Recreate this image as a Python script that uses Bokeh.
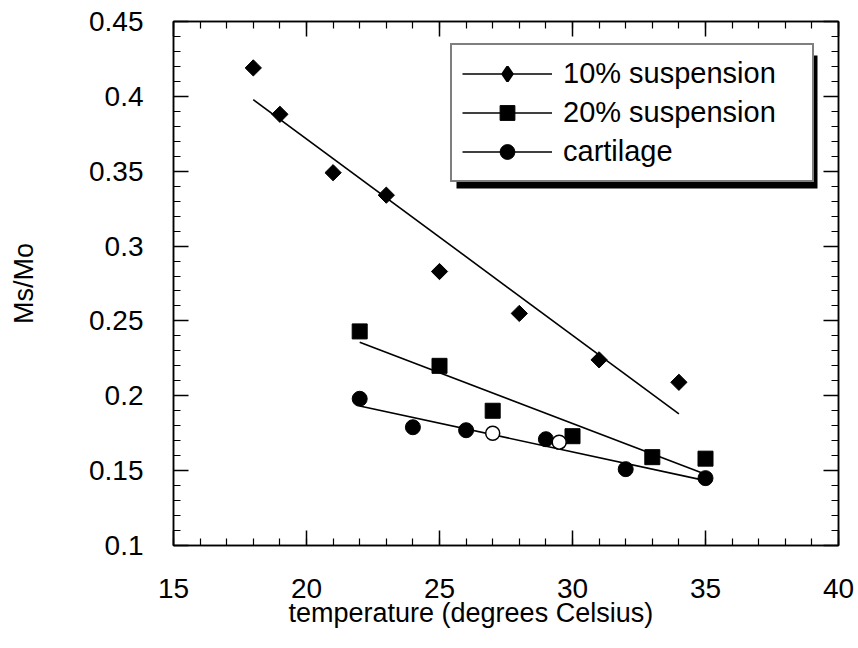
import numpy as np
from bokeh.plotting import figure
from bokeh.models import (Range1d, LinearAxis, FixedTicker, Legend, LegendItem,
                          BoxAnnotation, CustomJSTickFormatter, Title)
from bokeh.embed import file_html
from bokeh.resources import INLINE

# ---- data ----
temp_10 = [18, 19, 21, 23, 25, 28, 31, 34]
ms_10 = [0.419, 0.388, 0.349, 0.334, 0.283, 0.255, 0.224, 0.209]

temp_20 = [22, 25, 27, 30, 33, 35]
ms_20 = [0.243, 0.220, 0.190, 0.173, 0.159, 0.158]

temp_cart = [22, 24, 26, 29, 32, 35]
ms_cart = [0.198, 0.179, 0.177, 0.171, 0.151, 0.145]

temp_cart_open = [27, 29.5]
ms_cart_open = [0.175, 0.169]

x_ticks = [15, 20, 25, 30, 35, 40]
x_tick_labels = ["15", "20", "25", "30", "35", "40"]
y_ticks = [0.1, 0.15, 0.2, 0.25, 0.3, 0.35, 0.4, 0.45]
y_tick_labels = ["0.1", "0.15", "0.2", "0.25", "0.3", "0.35", "0.4", "0.45"]

labels = ["10% suspension", "20% suspension", "cartilage"]
x_title = "temperature (degrees Celsius)"
y_title = "Ms/Mo"

FONT = "Liberation Sans"

p = figure(width=858, height=648, output_backend="svg", toolbar_location=None,
           x_range=Range1d(15, 40), y_range=Range1d(0.1, 0.45),
           min_border_left=173, min_border_right=20, min_border_top=21,
           min_border_bottom=103)
p.xgrid.visible = False
p.ygrid.visible = False
p.outline_line_color = "black"
p.outline_line_width = 1.5
p.background_fill_color = "white"
p.border_fill_color = "white"

x_minor = list(np.arange(15, 40.01, 1.0))
y_minor = list(np.round(np.arange(0.1, 0.4501, 0.01), 3))


def style_axis(ax, show_labels):
    ax.axis_line_color = "black"
    ax.axis_line_width = 1.5
    ax.major_tick_in = 15
    ax.major_tick_out = 0
    ax.minor_tick_in = 7
    ax.minor_tick_out = 0
    ax.major_tick_line_width = 1.5
    ax.minor_tick_line_width = 1.2
    ax.major_tick_line_color = "black"
    ax.minor_tick_line_color = "black"
    ax.major_label_text_font = FONT
    ax.major_label_text_color = "black"
    ax.axis_label_text_font = FONT
    ax.axis_label_text_font_style = "normal"
    ax.axis_label_text_color = "black"
    if not show_labels:
        ax.formatter = CustomJSTickFormatter(code="return ''")


# bottom axis
xa = p.xaxis[0]
xa.ticker = FixedTicker(ticks=x_ticks, minor_ticks=x_minor)
xa.major_label_overrides = dict(zip(x_ticks, x_tick_labels))
style_axis(xa, True)
xa.major_label_text_font_size = "28px"
xa.major_label_standoff = 33

# x-axis title (shifted left as in the original)
p.add_layout(Title(text=x_title, align="left", offset=115, standoff=-10,
                   text_font=FONT, text_font_size="27px",
                   text_font_style="normal", text_color="black"), "below")

# left axis
ya = p.yaxis[0]
ya.ticker = FixedTicker(ticks=y_ticks, minor_ticks=y_minor)
ya.major_label_overrides = dict(zip(y_ticks, y_tick_labels))
style_axis(ya, True)
ya.major_label_text_font_size = "28px"
ya.major_label_standoff = 30
ya.axis_label = y_title
ya.axis_label_text_font_size = "27px"
ya.axis_label_standoff = 47

# top and right axes (ticks only)
top = LinearAxis(ticker=FixedTicker(ticks=x_ticks, minor_ticks=x_minor))
style_axis(top, False)
p.add_layout(top, "above")
right = LinearAxis(ticker=FixedTicker(ticks=y_ticks, minor_ticks=y_minor))
style_axis(right, False)
p.add_layout(right, "right")


def fit_line(xs, ys):
    k, b = np.polyfit(xs, ys, 1)
    x0, x1 = min(xs), max(xs)
    return [x0, x1], [k * x0 + b, k * x1 + b]


fx, fy = fit_line(temp_10, ms_10)
l10 = p.line(fx, fy, line_color="black", line_width=1.6)
# diamond glyph used for the legend swatch (sits hidden under the rotated squares)
d10 = p.scatter(temp_10, ms_10, marker="diamond", size=10,
                fill_color="black", line_color="black", line_width=2.5)
p.scatter(temp_10, ms_10, marker="square", angle=np.pi / 4, size=11.5,
          fill_color="black", line_color="black")

fx, fy = fit_line(temp_20, ms_20)
l20 = p.line(fx, fy, line_color="black", line_width=1.6)
s20 = p.scatter(temp_20, ms_20, marker="square", size=15,
                fill_color="black", line_color="black")

fx, fy = fit_line(temp_cart, ms_cart)
lc = p.line(fx, fy, line_color="black", line_width=1.6)
sc = p.scatter(temp_cart, ms_cart, marker="circle", size=15,
               fill_color="black", line_color="black")
p.scatter(temp_cart_open, ms_cart_open, marker="circle", size=14,
          fill_color="white", line_color="black", line_width=1.5)

# legend shadow
shadow = BoxAnnotation(left=283, right=644, top=490, bottom=357,
                       left_units="screen", right_units="screen",
                       top_units="screen", bottom_units="screen",
                       fill_color="black", fill_alpha=1.0, line_color=None)
p.add_layout(shadow)

legend = Legend(items=[LegendItem(label=labels[0], renderers=[l10, d10]),
                       LegendItem(label=labels[1], renderers=[l20, s20]),
                       LegendItem(label=labels[2], renderers=[lc, sc])],
                location=(277, 363), margin=0, padding=10, spacing=2,
                glyph_width=90, glyph_height=37, label_height=37,
                label_width=239, label_standoff=11,
                label_text_font=FONT, label_text_font_size="29px",
                label_text_color="black",
                border_line_color="black", border_line_width=2,
                background_fill_color="white", background_fill_alpha=1.0)
p.add_layout(legend)

open("out.html", "w").write(file_html(p, INLINE))
